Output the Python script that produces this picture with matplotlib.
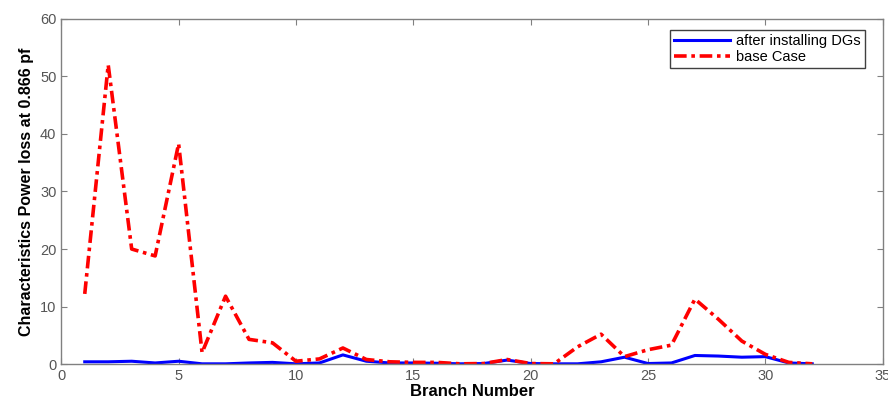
import matplotlib
matplotlib.use("Agg")
import matplotlib.pyplot as plt

plt.rcParams['font.family'] = ['Liberation Sans', 'DejaVu Sans']

branch = list(range(1, 33))
base_case = [12.2, 52.0, 20.0, 18.8, 38.3, 2.0, 11.8, 4.3, 3.7, 0.5,
             0.9, 2.8, 0.8, 0.4, 0.3, 0.3, 0.05, 0.1, 0.8, 0.1,
             0.05, 3.0, 5.2, 1.3, 2.5, 3.3, 11.3, 7.8, 4.0, 1.7,
             0.3, 0.05]
after_dg = [0.4, 0.4, 0.5, 0.2, 0.5, 0.05, 0.05, 0.2, 0.3, 0.05,
            0.2, 1.6, 0.5, 0.2, 0.2, 0.15, 0.05, 0.1, 0.7, 0.1,
            0.05, 0.05, 0.4, 1.2, 0.1, 0.2, 1.5, 1.4, 1.2, 1.3,
            0.2, 0.05]

fig = plt.figure(figsize=(8.88, 4.01), dpi=100)
ax = fig.add_axes([0.069, 0.092, 0.925, 0.861])

ax.plot(branch, after_dg, color='#0000ff', lw=2.2, label='after installing DGs')
ax.plot(branch, base_case, color='#ff0000', lw=2.6, ls=(0, (3.5, 1.3, 1.0, 1.3)),
        label='base Case')

ax.set_xlim(0, 35)
ax.set_ylim(0, 60)
ax.set_xticks(range(0, 36, 5))
ax.set_yticks(range(0, 61, 10))

for s in ax.spines.values():
    s.set_color('#808080')
    s.set_linewidth(1.0)
ax.tick_params(direction='in', top=True, right=True, colors='#808080',
               labelcolor='#555555', labelsize=10.5, length=4)

ax.set_xlabel('Branch Number', fontsize=12, fontweight='bold', labelpad=1)
ax.set_ylabel('Characteristics Power loss at 0.866 pf', fontsize=11.5,
              fontweight='bold', labelpad=4)

leg = ax.legend(loc='upper right', bbox_to_anchor=(0.978, 0.968),
                fontsize=10.5, fancybox=False, framealpha=1,
                edgecolor='#404040', handlelength=3.8, borderaxespad=0,
                labelspacing=0.1, borderpad=0.3, handletextpad=0.4)
leg.get_frame().set_linewidth(1.0)

fig.savefig('out.png', dpi=100)
